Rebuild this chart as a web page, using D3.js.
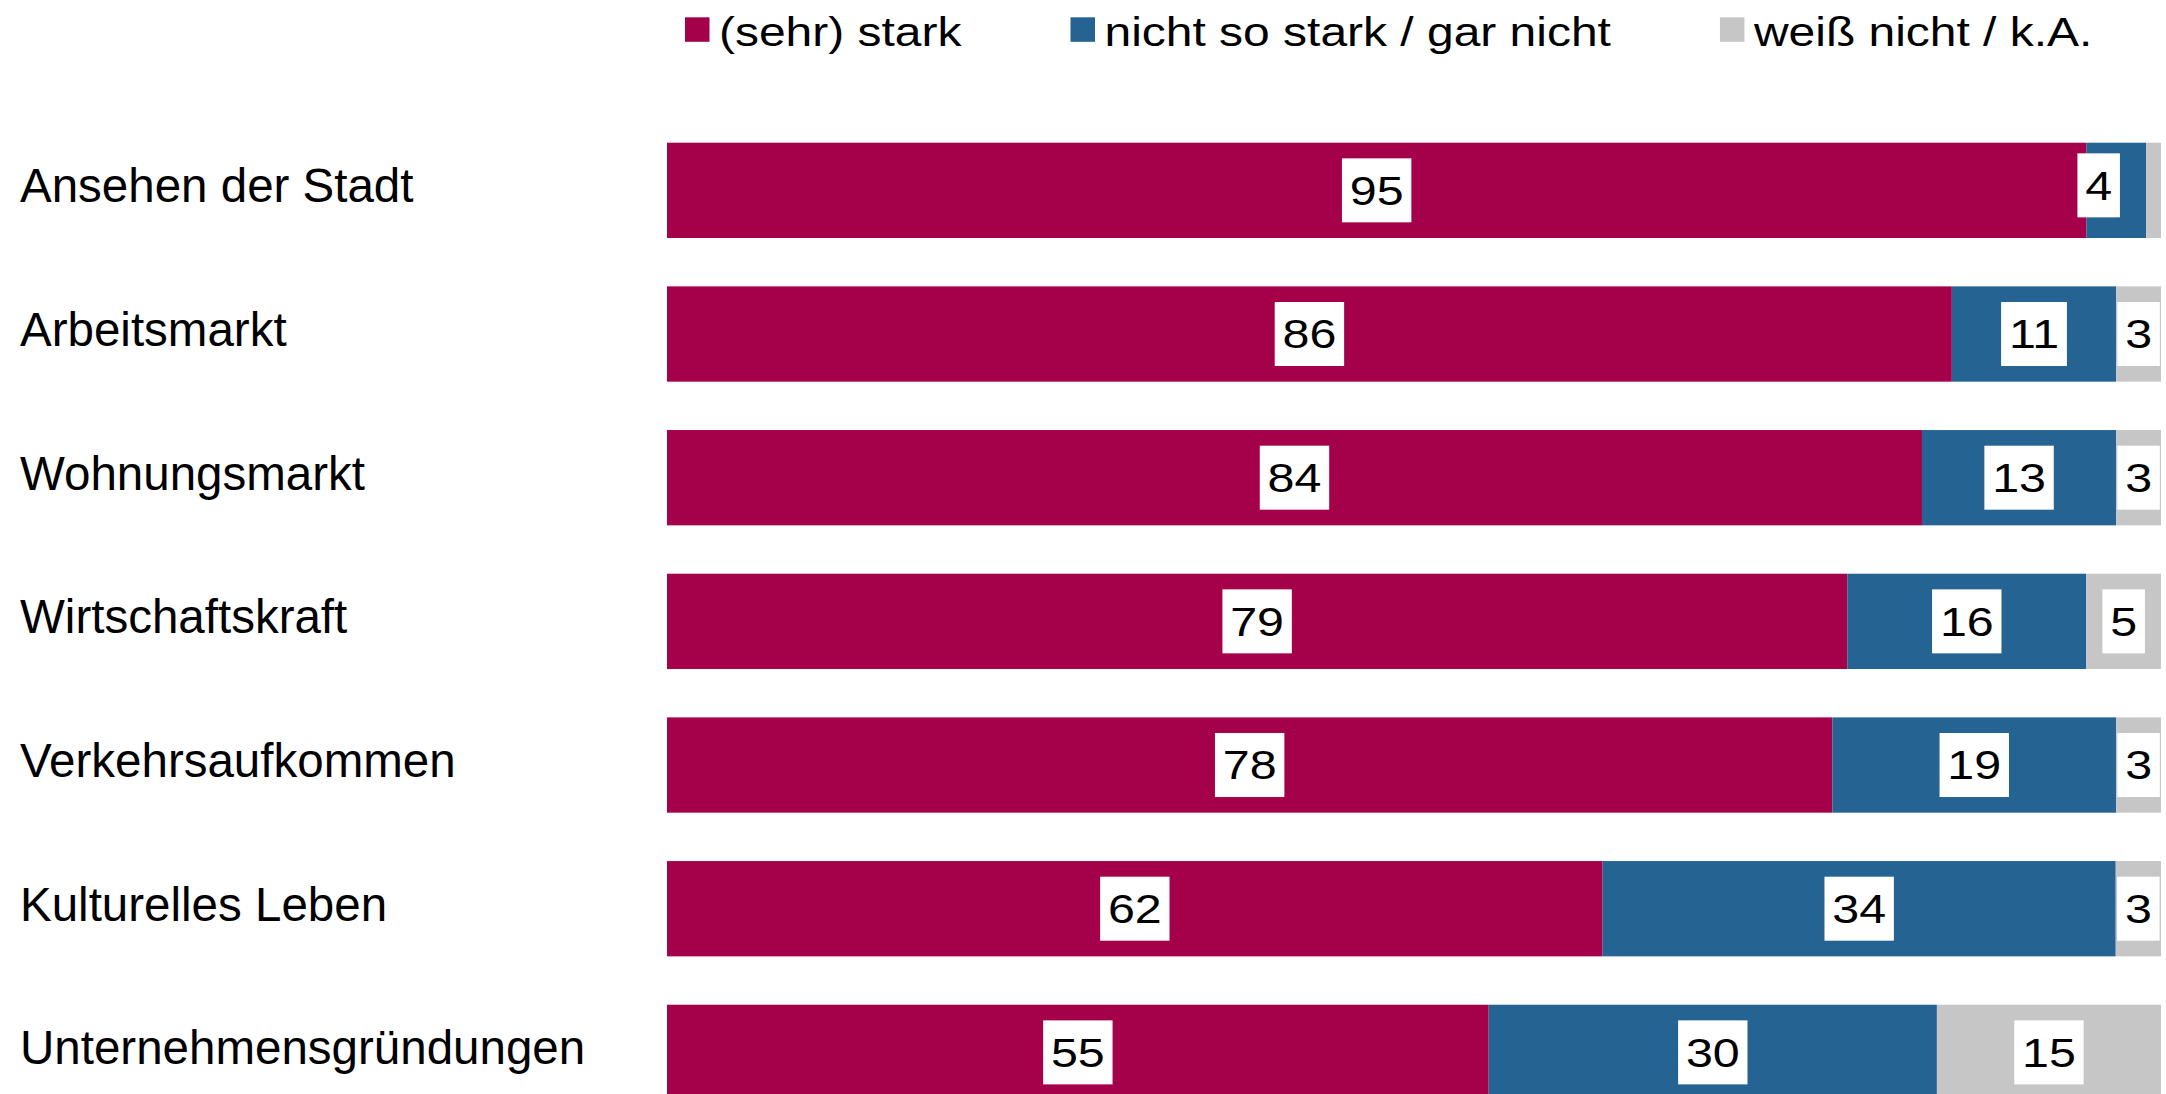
<!DOCTYPE html>
<html>
<head>
<meta charset="utf-8">
<script src="https://cdn.jsdelivr.net/npm/d3@7"></script>
<style>
  html, body { margin: 0; padding: 0; background: #fff; }
  svg { display: block; }
  text { font-family: "Liberation Sans", Arial, sans-serif; fill: #000; }
</style>
</head>
<body>
<svg id="chart" width="2166" height="1094"></svg>
<script>
// ---- data ----
const categories = [
  "Ansehen der Stadt",
  "Arbeitsmarkt",
  "Wohnungsmarkt",
  "Wirtschaftskraft",
  "Verkehrsaufkommen",
  "Kulturelles Leben",
  "Unternehmensgründungen"
];
const seriesNames = ["(sehr) stark", "nicht so stark / gar nicht", "weiß nicht / k.A."];
const stark      = [95, 86, 84, 79, 78, 62, 55];
const nichtStark = [ 4, 11, 13, 16, 19, 34, 30];
const weissNicht = [ 1,  3,  3,  5,  3,  3, 15];
const colors = ["#a5004a", "#246392", "#c6c6c6"];

// ---- layout ----
const W = 2166, H = 1094;
const plotLeft = 667, plotRight = 2161;
const barTop = 142.7, step = 143.67, barH = 95.3;

const svg = d3.select("#chart");

const rows = categories.map((c, i) => ({
  cat: c,
  s0: stark[i], s1: nichtStark[i], s2: weissNicht[i]
}));
const keys = ["s0", "s1", "s2"];
const stack = d3.stack().keys(keys).offset(d3.stackOffsetExpand);
const stacked = stack(rows);

const x = d3.scaleLinear().domain([0, 1]).range([plotLeft, plotRight]);
const y = d3.scaleBand()
  .domain(categories)
  .range([barTop, barTop + step * categories.length - (step - barH)])
  .paddingInner((step - barH) / step)
  .paddingOuter(0);

// bars
const layers = svg.append("g").selectAll("g")
  .data(stacked).join("g")
  .attr("fill", (d, i) => colors[i]);

layers.selectAll("rect")
  .data(d => d.map(v => ({ v, key: d.key })))
  .join("rect")
  .attr("x", d => x(d.v[0]))
  .attr("y", d => y(d.v.data.cat))
  .attr("width", d => x(d.v[1]) - x(d.v[0]))
  .attr("height", y.bandwidth());

// category labels
svg.append("g").selectAll("text")
  .data(categories).join("text")
  .attr("x", 20)
  .attr("y", d => y(d) + y.bandwidth() / 2 + 12)
  .attr("font-size", 47.5)
  .text(d => d);

// value labels with white boxes
const numSize = 41, sx = 1.18, padX = 7.8, boxH = 64;
const labelG = svg.append("g");
stacked.forEach((layer, li) => {
  layer.forEach((v, ri) => {
    const val = rows[ri][layer.key];
    if (val < 2) return;
    let cx = (x(v[0]) + x(v[1])) / 2;
    let cy = y(v.data.cat) + y.bandwidth() / 2;
    // label displaced (repelled) next to the tiny hidden segment
    if (ri === 0 && li === 1) { cx -= 17.5; cy -= 5; }
    const g = labelG.append("g").attr("transform", `translate(${cx},${cy})`);
    const rect = g.append("rect").attr("fill", "#fff");
    const t = g.append("text")
      .attr("font-size", numSize)
      .attr("text-anchor", "middle")
      .attr("dominant-baseline", "central")
      .attr("transform", `scale(${sx},1)`)
      .text(val);
    const tw = t.node().getComputedTextLength() * sx;
    const bw = tw + 2 * padX;
    rect.attr("x", -bw / 2).attr("y", -boxH / 2).attr("width", bw).attr("height", boxH);
  });
});

// legend
const legG = svg.append("g");
let lx = 685;
const legSize = 41, legSx = 1.17;
seriesNames.forEach((name, i) => {
  legG.append("rect")
    .attr("x", lx).attr("y", 17.3)
    .attr("width", 24.5).attr("height", 24.5)
    .attr("fill", colors[i]);
  const tx = lx + 34;
  const t = legG.append("text")
    .attr("font-size", legSize)
    .attr("transform", `translate(${tx},45.7) scale(${legSx},1)`)
    .text(name);
  const tw = t.node().getComputedTextLength() * legSx;
  lx = tx + tw + 109;
});
</script>
</body>
</html>
